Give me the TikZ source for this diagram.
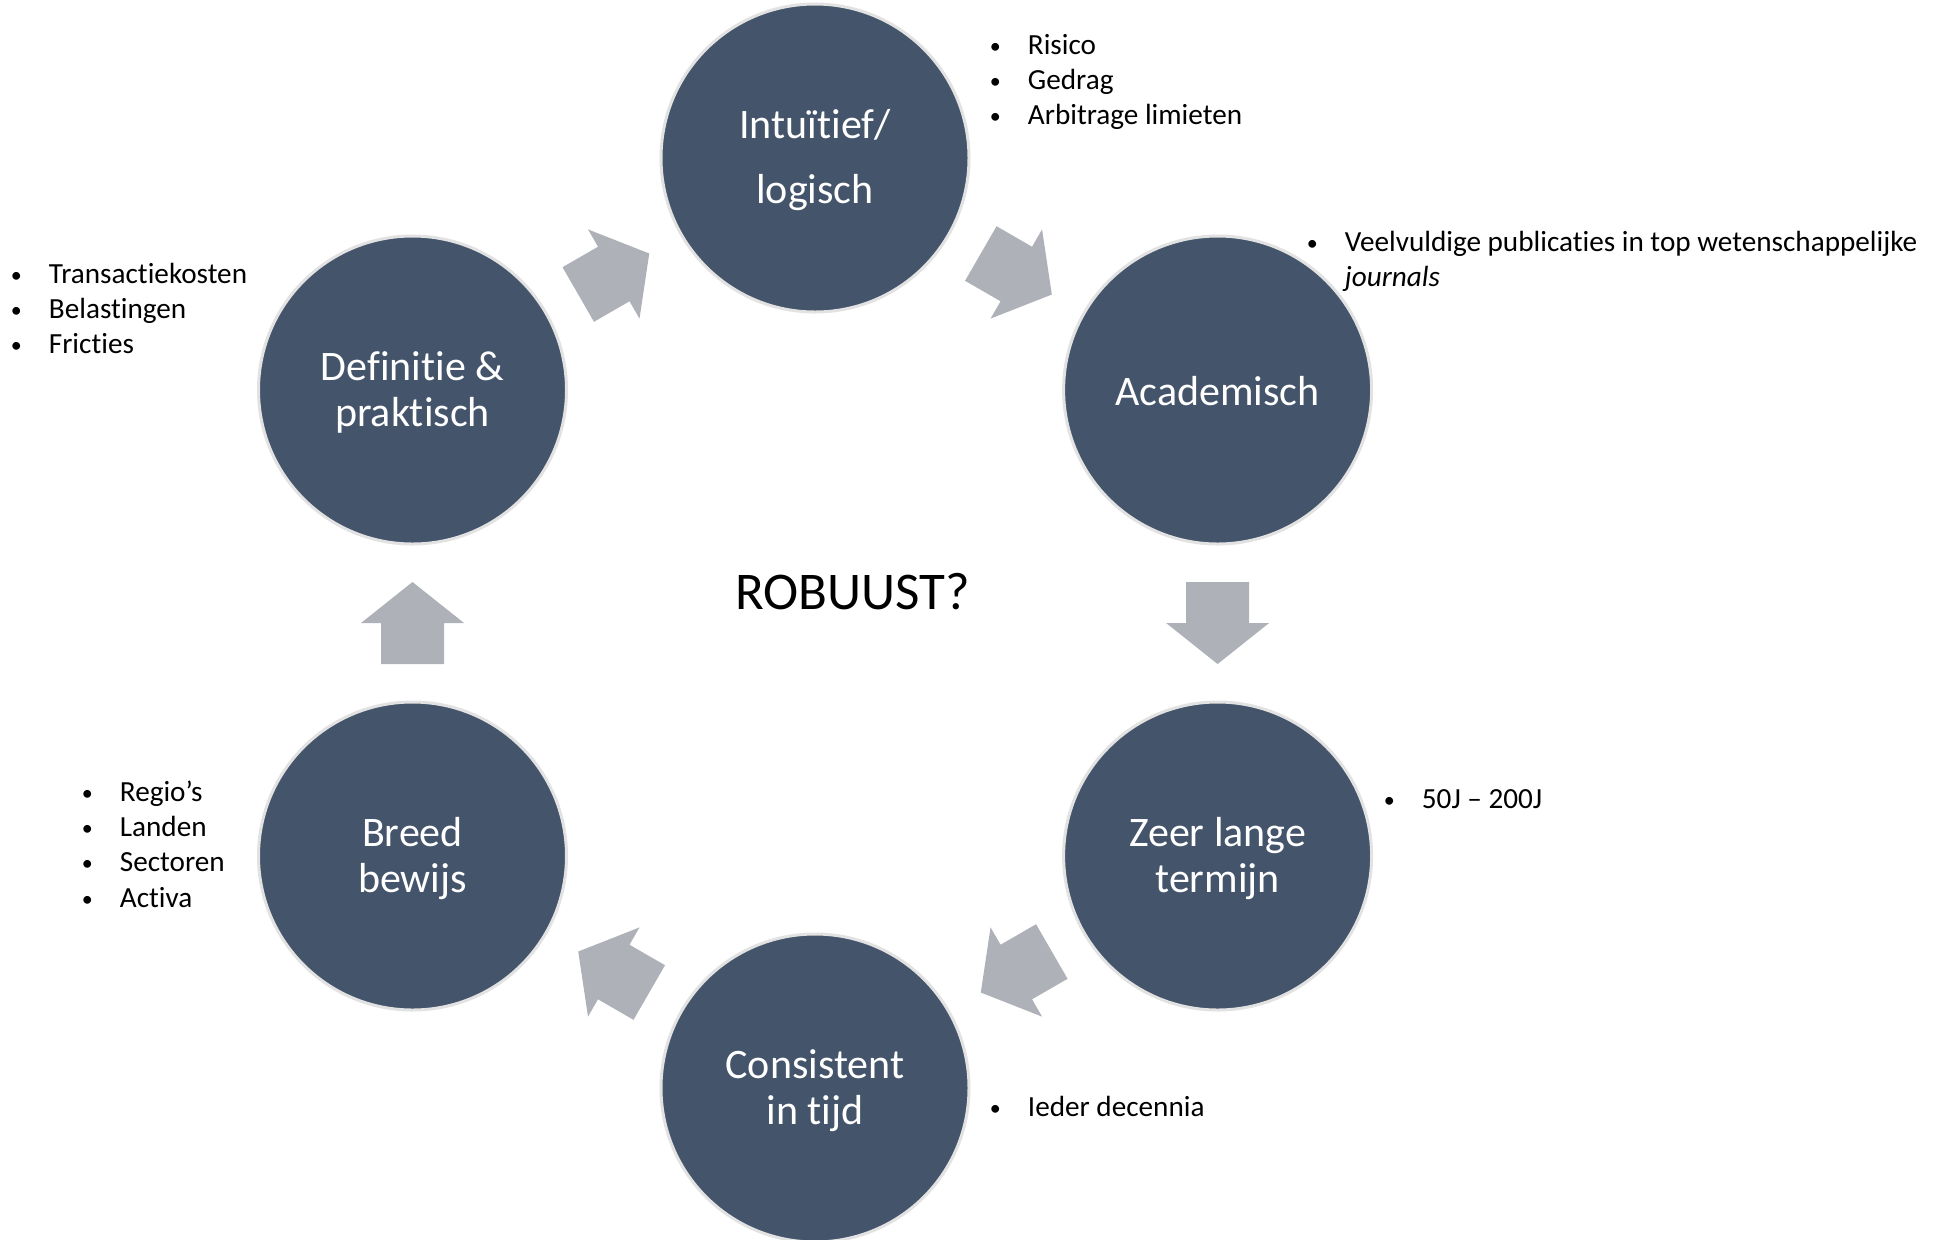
\documentclass[tikz,border=0pt]{standalone}
\usepackage{fontspec}
\setmainfont{Carlito}[Ligatures=NoCommon]
\usetikzlibrary{calc}
\definecolor{circfill}{HTML}{44546A}
\definecolor{circedge}{HTML}{E2E2E2}
\definecolor{arrfill}{HTML}{AEB1B8}
\newcommand\bitem{\makebox[19pt][l]{\raisebox{0.5pt}{\fontsize{11}{11}\selectfont\textbullet}}}
\tikzset{
  stage/.style={circle, fill=circfill, draw=circedge, line width=1.5pt,
    minimum size=154pt, inner sep=0pt},
  stagetext/.style={inner sep=0pt, text=white, align=center,
    font=\fontsize{21}{23}\selectfont},
  bul/.style={anchor=base west, inner sep=0pt, text=black,
    font=\fontsize{14.6}{17.6}\selectfont},
  pics/blockarrow/.style={code={
    \fill[arrfill] (-41,-31.5) -- (0,-31.5) -- (0,-51.5) -- (41,0)
      -- (0,51.5) -- (0,31.5) -- (-41,31.5) -- cycle;}}
}
\begin{document}
\begin{tikzpicture}[x=0.5pt,y=-0.5pt]
\useasboundingbox (0,0) rectangle (1954,1239);
\fill[white] (0,0) rectangle (1954,1239);
\clip (0,0) rectangle (1954,1239);

% circles
\node[stage] (top)  at (815,158)    {};
\node[stage] (acad) at (1217.6,390) {};
\node[stage] (zeer) at (1217.6,856) {};
\node[stage] (cons) at (815,1088)   {};
\node[stage] (breed) at (412.5,856) {};
\node[stage] (def)  at (412.5,390)  {};

% circle texts
\node[stagetext] (toptxt)   at ([yshift=-1pt]top.center)   {Intuïtief/\\[9.5pt]logisch};
\node[stagetext] (acadtxt)  at ([yshift=-0.5pt]acad.center)  {Academisch};
\node[stagetext] (zeertxt)  at ([yshift=-1pt]zeer.center)  {Zeer lange\\termijn};
\node[stagetext] (constxt)  at ([yshift=-1.5pt]cons.center)  {Consistent\\in tijd};
\node[stagetext] (breedtxt) at ([yshift=-1pt]breed.center) {Breed\\bewijs};
\node[stagetext] (deftxt)   at ([yshift=-1pt]def.center)   {Definitie \&\\praktisch};

% block arrows
\pic[rotate=-30]  at ($(top)!0.5!(acad)$)   {blockarrow};
\pic[rotate=-90]  at ($(acad)!0.5!(zeer)$)  {blockarrow};
\pic[rotate=-150] at ($(zeer)!0.5!(cons)$)  {blockarrow};
\pic[rotate=150]  at ($(cons)!0.5!(breed)$) {blockarrow};
\pic[rotate=90]   at ($(breed)!0.5!(def)$)  {blockarrow};
\pic[rotate=30]   at ($(def)!0.5!(top)$)    {blockarrow};

% centre text
\node[anchor=base west, inner sep=0pt, font=\fontsize{26.5}{30}\selectfont] (robuust) at (735,609.5) {ROBUUST?};

% bullet lists
\node[bul] (ltop) at (989.5,54.5) {\vtop{\hbox{\bitem Risico}\hbox{\bitem Gedrag}\hbox{\bitem Arbitrage limieten}}};
\node[bul] (lacad) at (1306.5,251) {\vtop{\hbox{\bitem Veelvuldige publicaties in top wetenschappelijke}\hbox{\hspace{19pt}\textit{journals}}}};
\node[bul] (ldef) at (10.5,283) {\vtop{\hbox{\bitem Transactiekosten}\hbox{\bitem Belastingen}\hbox{\bitem Fricties}}};
\node[bul] (lbreed) at (81.5,801.5) {\vtop{\hbox{\bitem Regio’s}\hbox{\bitem Landen}\hbox{\bitem Sectoren}\hbox{\bitem Activa}}};
\node[bul] (lzeer) at (1383.5,808) {\bitem 50J – 200J};
\node[bul] (lcons) at (989.5,1116) {\bitem Ieder decennia};
\end{tikzpicture}
\end{document}
